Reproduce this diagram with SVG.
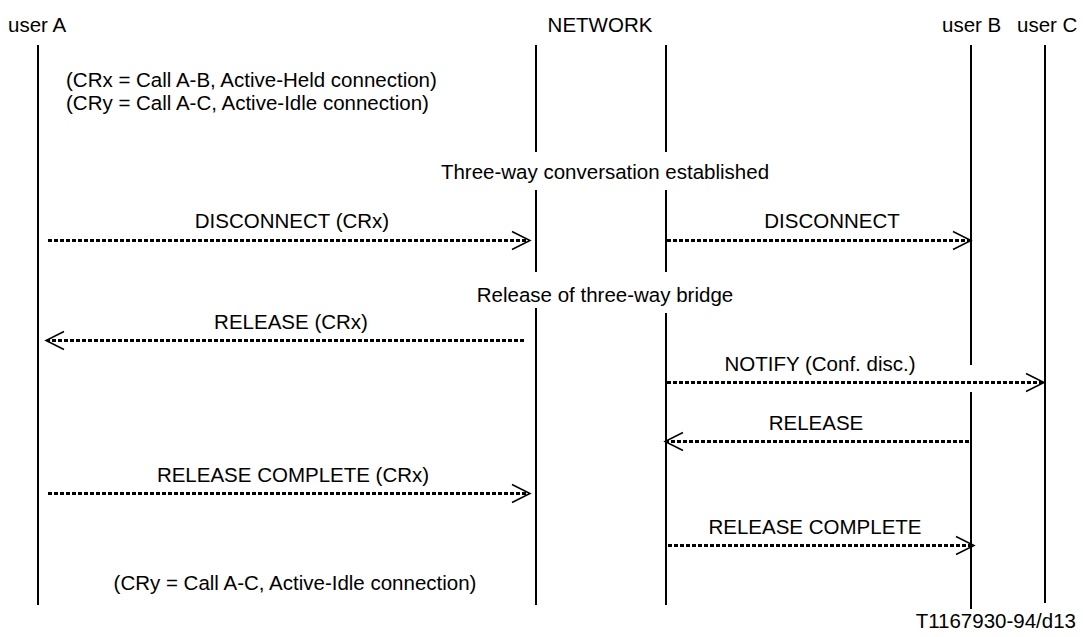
<svg xmlns="http://www.w3.org/2000/svg" width="1083" height="637" viewBox="0 0 1083 637">
<style>
text{font-family:"Liberation Sans",Arial,sans-serif;font-size:20.5px;fill:#000}
.c{text-anchor:middle}
.life{stroke:#000;stroke-width:2;fill:none}
.msg{stroke:#000;stroke-width:3;stroke-dasharray:4 2;fill:none}
.head{stroke:#000;stroke-width:1.5;fill:none}
</style>
<rect width="1083" height="637" fill="#fff"/>
<g id="userA">
<text x="8" y="32">user A</text>
<line class="life" x1="38" y1="45" x2="38" y2="605"/>
</g>
<g id="network">
<text class="c" x="600" y="32">NETWORK</text>
<path class="life" d="M536 45V152M536 190V272M536 308V605M666 45V152M666 190V272M666 313V605"/>
</g>
<g id="userB">
<text x="942" y="32">user B</text>
<path class="life" d="M971 45V365M971 392V609"/>
</g>
<g id="userC">
<text x="1017" y="32">user C</text>
<line class="life" x1="1045" y1="45" x2="1045" y2="603"/>
</g>
<g id="notes">
<text x="66" y="87">(CRx = Call A-B, Active-Held connection)</text>
<text x="66" y="110">(CRy = Call A-C, Active-Idle connection)</text>
<text class="c" x="605" y="179">Three-way conversation established</text>
<text class="c" x="605" y="302">Release of three-way bridge</text>
<text class="c" x="295" y="590">(CRy = Call A-C, Active-Idle connection)</text>
<text x="1076" y="628" style="text-anchor:end">T1167930-94/d13</text>
</g>
<g id="connectors">
<g id="m1"><text class="c" x="292" y="228">DISCONNECT (CRx)</text><line class="msg" x1="48" y1="240.5" x2="529" y2="240.5"/><path class="head" d="M512 231.5L530 240.5L512 249.5"/></g>
<g id="m2"><text class="c" x="832" y="228">DISCONNECT</text><line class="msg" x1="667" y1="240.5" x2="970" y2="240.5"/><path class="head" d="M953 231.5L971 240.5L953 249.5"/></g>
<g id="m3"><text class="c" x="291" y="329">RELEASE (CRx)</text><line class="msg" x1="524" y1="340.5" x2="47" y2="340.5"/><path class="head" d="M64 331.5L46 340.5L64 349.5"/></g>
<g id="m4"><text class="c" x="820" y="371">NOTIFY (Conf. disc.)</text><line class="msg" x1="667" y1="382.5" x2="1043" y2="382.5"/><path class="head" d="M1026 373.5L1044 382.5L1026 391.5"/></g>
<g id="m5"><text class="c" x="816" y="430">RELEASE</text><line class="msg" x1="969" y1="441.5" x2="666" y2="441.5"/><path class="head" d="M683 432.5L665 441.5L683 450.5"/></g>
<g id="m6"><text class="c" x="293" y="482">RELEASE COMPLETE (CRx)</text><line class="msg" x1="48" y1="493.5" x2="529" y2="493.5"/><path class="head" d="M512 484.5L530 493.5L512 502.5"/></g>
<g id="m7"><text class="c" x="815" y="534">RELEASE COMPLETE</text><line class="msg" x1="668" y1="545.5" x2="973" y2="545.5"/><path class="head" d="M956 536.5L974 545.5L956 554.5"/></g>
</g>
</svg>
